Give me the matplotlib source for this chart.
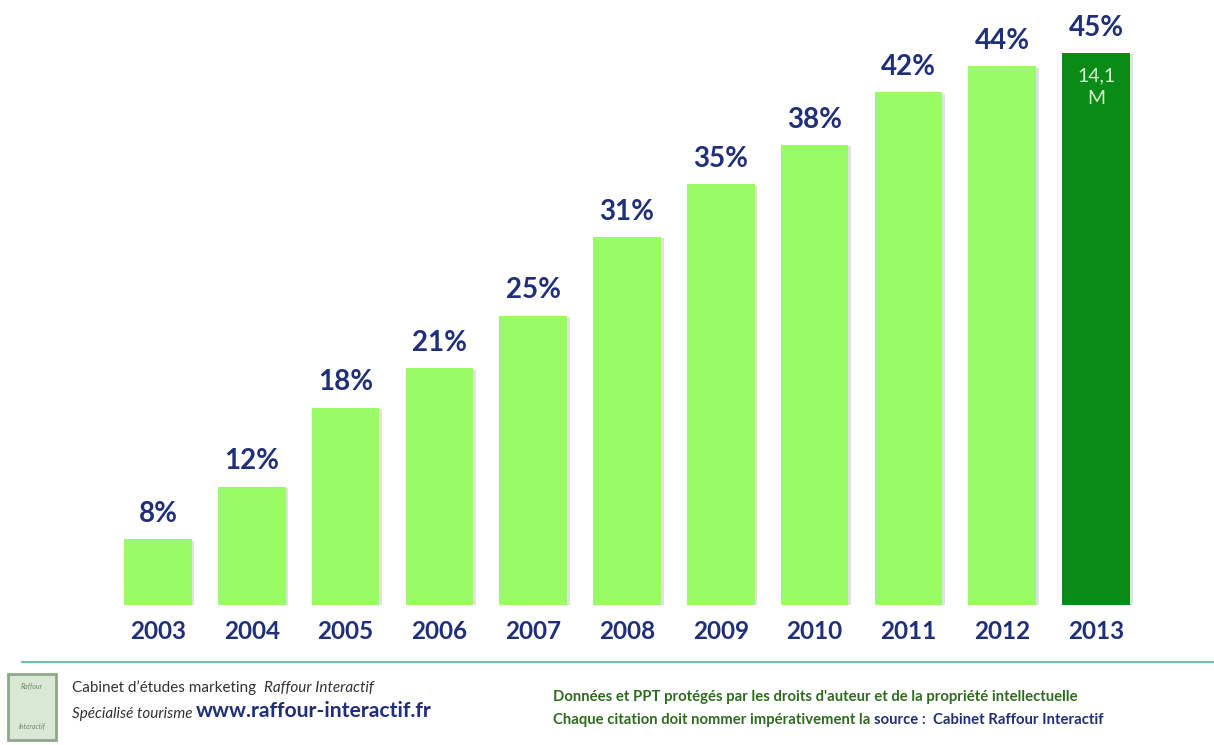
import matplotlib.pyplot as plt
import matplotlib.patheffects as pe
from matplotlib.patches import Rectangle

years = ["2003", "2004", "2005", "2006", "2007", "2008", "2009", "2010", "2011", "2012", "2013"]
shares = [8, 12, 18, 21, 25, 31, 35, 38, 42, 44, 45]
labels = ["8%", "12%", "18%", "21%", "25%", "31%", "35%", "38%", "42%", "44%", "45%"]
last_note = "14,1\nM"

plt.rcParams['font.family'] = ['Lato', 'DejaVu Sans']

navy = "#1F2F7A"
light = "#99FB66"
dark = "#0A8A16"

fig = plt.figure(figsize=(12.14, 7.45), dpi=100)
ax = fig.add_axes([111 / 1214, 140 / 745, 1032 / 1214, 552 / 745])

colors = [light] * (len(years) - 1) + [dark]
x = list(range(len(years)))
bars = ax.bar(x, shares, width=0.72, color=colors, bottom=0)
for b in bars:
    b.set_path_effects([pe.SimplePatchShadow(offset=(2, -1), shadow_rgbFace="#aaaaaa", alpha=0.35),
                        pe.Normal()])

ax.set_xlim(-0.5, 10.5)
ax.set_ylim(3, 45)

for i, (v, lab) in enumerate(zip(shares, labels)):
    ax.annotate(lab, (i, v), xytext=(0, 9), textcoords="offset points",
                ha="center", va="bottom", fontsize=20, fontweight="bold",
                color=navy, clip_on=False)
    ax.annotate(years[i], (i, 3), xytext=(0, -11), textcoords="offset points",
                ha="center", va="top", fontsize=17.5, fontweight="bold",
                color=navy, annotation_clip=False)

ax.annotate(last_note, (10, 45), xytext=(0, -10), textcoords="offset points",
            ha="center", va="top", fontsize=14, color="#D8F7D0", linespacing=1.45)

for s in ax.spines.values():
    s.set_visible(False)
ax.set_xticks([])
ax.set_yticks([])

# bas de page
fig.add_artist(plt.Line2D([22 / 1214, 1], [1 - 662 / 745, 1 - 662 / 745],
                          color="#6CC3A0", lw=1.5))
fig.add_artist(Rectangle((8 / 1214, 1 - 740 / 745), 48 / 1214, 66 / 745,
                         facecolor="#D9E8D4", edgecolor="#8FA88A", lw=2))
fig.text(32 / 1214, 1 - 686 / 745, "Raffour", fontsize=5, color="#6B8A66",
         style="italic", ha="center", va="center")
fig.text(32 / 1214, 1 - 726 / 745, "Interactif", fontsize=5, color="#6B8A66",
         style="italic", ha="center", va="center")

t1 = fig.text(72 / 1214, 1 - 688 / 745, "Cabinet d\u2019études marketing  ",
              fontsize=11, color="#333333", va="center")
ax.annotate("Raffour Interactif", xy=(1, 0), xycoords=t1, va="bottom",
            fontsize=11, color="#333333", style="italic", annotation_clip=False)

t2 = fig.text(72 / 1214, 1 - 718 / 745, "Spécialisé tourisme ", fontsize=11,
              color="#333333", style="italic", va="baseline")
ax.annotate("www.raffour-interactif.fr", xy=(1, 0), xycoords=t2, va="bottom",
            fontsize=15.2, fontweight="bold", color=navy, annotation_clip=False)

green_txt = "#2F6B1F"
fig.text(553 / 1214, 1 - 697 / 745,
         "Données et PPT protégés par les droits d'auteur et de la propriété intellectuelle",
         fontsize=10.7, fontweight="bold", color=green_txt, va="center")
t3 = fig.text(553 / 1214, 1 - 720 / 745, "Chaque citation doit nommer impérativement la ",
              fontsize=10.7, fontweight="bold", color=green_txt, va="center")
ax.annotate("source :  Cabinet Raffour Interactif", xy=(1, 0), xycoords=t3, va="bottom",
            fontsize=10.7, fontweight="bold", color=navy, annotation_clip=False)

fig.savefig("out.png", dpi=100)
